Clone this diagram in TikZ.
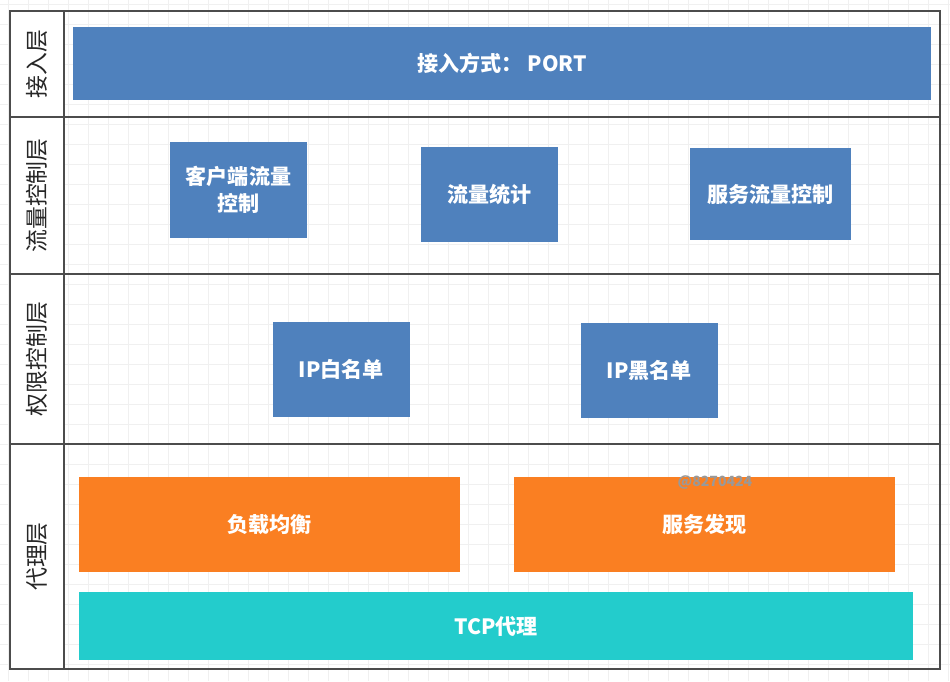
\documentclass[tikz,border=0pt]{standalone}
\usepackage{fontspec}
\setmainfont{Noto Sans CJK SC}
\usetikzlibrary{positioning}

\definecolor{layerblue}{HTML}{4F81BD}
\definecolor{proxyorange}{HTML}{FA7F22}
\definecolor{tcpcyan}{HTML}{23CCCC}

\begin{document}
\begin{tikzpicture}[
    x=0.02cm, y=-0.02cm,
    box/.style={inner sep=0pt, align=center, text=white,
        font=\bfseries\fontsize{12}{15}\selectfont},
    bluebox/.style={box, fill=layerblue, minimum width=2.74cm, minimum height=1.9cm},
    layername/.style={rotate=90, text=black!85, font=\fontsize{13}{15}\selectfont},
    frameline/.style={draw=black!70, line width=0.7pt},
    gridline/.style={draw=black!6, line width=0.5pt}
]
    \useasboundingbox (0,0) rectangle (950,681);
    % background grid
    \foreach \gx in {8,28,...,948}
        \draw[gridline] (\gx,0) -- (\gx,681);
    \foreach \gy in {4,24,...,680}
        \draw[gridline] (0,\gy) -- (950,\gy);

    % frame and layer lines
    \fill[white] (10,11) rectangle (940,669);
    \foreach \gx in {68,88,...,938}
        \draw[gridline] (\gx,11) -- (\gx,669);
    \foreach \gy in {24,44,...,664}
        \draw[gridline] (64,\gy) -- (940,\gy);
    \draw[frameline] (10,11) rectangle (940,669);
    \draw[frameline] (64,11) -- (64,669);
    \foreach \ly in {117,274,444}
        \draw[frameline] (10,\ly) -- (940,\ly);

    % layer names
    \node[layername] (l1) at (37,64) {接入层};
    \node[layername] (l2) at (37,195.5) {流量控制层};
    \node[layername] (l3) at (37,359) {权限控制层};
    \node[layername] (l4) at (37,556.5) {代理层};

    % access layer
    \node[box, fill=layerblue, minimum width=17.16cm, minimum height=1.46cm] (port) at (502,63.5) {接入方式：~PORT};

    % flow control layer
    \node[bluebox, minimum height=1.92cm] (client) at (238.5,190) {客户端流量\\控制};
    \node[bluebox] (stat) at (489.5,194.5) {流量统计};
    \node[bluebox, minimum width=3.22cm, minimum height=1.84cm] (svcflow) at (770.5,194) {服务流量控制};

    % permission layer
    \node[bluebox] (white) at (341.5,369.5) {IP白名单};
    \node[bluebox] (black) at (649.5,370.5) {IP黑名单};

    % proxy layer
    \node[box, fill=proxyorange, minimum width=7.62cm, minimum height=1.9cm] (lb) at (269.5,524.5) {负载均衡};
    \node[box, fill=proxyorange, minimum width=7.62cm, minimum height=1.9cm] (disc) at (704.5,524.5) {服务发现};
    \node[box, fill=tcpcyan, minimum width=16.68cm, minimum height=1.36cm] (tcp) at (496,626) {TCP代理};
    \node[text=black!40, font=\bfseries\fontsize{8}{9}\selectfont] (mark) at (715,482) {@8270424};
\end{tikzpicture}
\end{document}
